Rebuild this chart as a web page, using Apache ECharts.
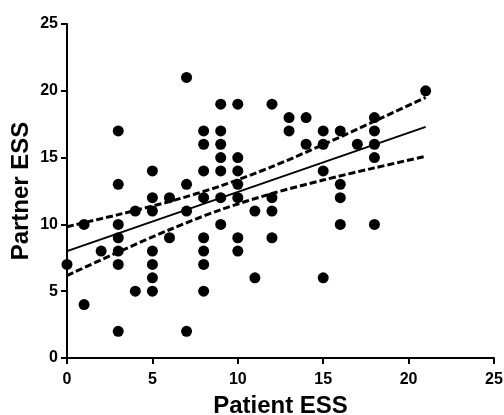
<!DOCTYPE html>
<html>
<head>
<meta charset="utf-8">
<script src="https://cdn.jsdelivr.net/npm/echarts@6/dist/echarts.min.js"></script>
<style>
html,body{margin:0;padding:0;background:#fff;}
#chart{width:504px;height:415px;}
</style>
</head>
<body>
<div id="chart"></div>
<script>
// Scatter data
var patientESS = [0,1,1,2,3,3,3,3,3,3,3,4,4,5,5,5,5,5,5,5,6,6,7,7,7,7,
  8,8,8,8,8,8,8,8,9,9,9,9,9,9,9,10,10,10,10,10,10,10,11,11,12,12,12,12,
  13,13,14,14,15,15,15,15,16,16,16,16,17,18,18,18,18,18,21];
var partnerESS = [7,10,4,8,17,13,10,9,8,7,2,11,5,14,12,11,8,7,6,5,12,9,21,13,11,2,
  17,16,14,12,9,8,7,5,19,17,16,15,14,12,10,19,15,14,13,12,9,8,11,6,19,12,11,9,
  18,17,18,16,17,16,14,6,17,13,12,10,16,18,17,16,15,10,20];

// Regression line and 95% confidence band
var fitX = [0, 21];
var fitY = [8.0, 17.3];
var ciX = [0, 3, 6, 9, 12, 15, 18, 21];
var ciUpper = [9.83, 10.73, 11.71, 12.88, 14.32, 15.97, 17.72, 19.50];
var ciLower = [6.17, 7.93, 9.60, 11.10, 12.31, 13.32, 14.23, 15.10];

// Axis ticks
var xTicks = [0, 5, 10, 15, 20, 25];
var yTicks = [0, 5, 10, 15, 20, 25];

function pairs(xs, ys){ return xs.map(function(x,i){ return [x, ys[i]]; }); }

var fontFam = '"Liberation Sans", Arial, Helvetica, sans-serif';
var axisCommon = {
  type: 'value',
  interval: 5,
  splitLine: {show: false},
  axisLine: {show: true, onZero: false, lineStyle: {color: '#000', width: 2}},
  axisTick: {show: true, inside: false, length: 6, lineStyle: {color: '#000', width: 2}},
  nameLocation: 'middle',
  nameMoveOverlap: false,
  nameTextStyle: {color: '#000', fontSize: 24, fontWeight: 'bold', fontFamily: fontFam}
};

var chart = echarts.init(document.getElementById('chart'), null, {renderer: 'canvas'});
chart.setOption({
  animation: false,
  backgroundColor: '#fff',
  grid: {left: 67, right: 10, top: 24, bottom: 57, containLabel: false, outerBoundsMode: 'none'},
  xAxis: Object.assign({}, axisCommon, {
    min: xTicks[0], max: xTicks[xTicks.length-1],
    name: 'Patient ESS', nameGap: 36,
    axisLabel: {color: '#000', fontSize: 16, fontWeight: 'bold', fontFamily: fontFam, margin: 14,
      showMaxLabel: true, showMinLabel: true}
  }),
  yAxis: Object.assign({}, axisCommon, {
    min: yTicks[0], max: yTicks[yTicks.length-1],
    name: 'Partner ESS', nameGap: 34,
    axisLabel: {color: '#000', fontSize: 16, fontWeight: 'bold', fontFamily: fontFam, margin: 9,
      showMaxLabel: true, showMinLabel: true}
  }),
  series: [
    {
      type: 'line', data: pairs(ciX, ciUpper), smooth: 0.3, symbol: 'none',
      lineStyle: {color: '#000', width: 3, type: [7, 3]}, z: 3
    },
    {
      type: 'line', data: pairs(ciX, ciLower), smooth: 0.3, symbol: 'none',
      lineStyle: {color: '#000', width: 3, type: [7, 3]}, z: 3
    },
    {
      type: 'line', data: pairs(fitX, fitY), symbol: 'none',
      lineStyle: {color: '#000', width: 2}, z: 3
    },
    {
      type: 'scatter', data: pairs(patientESS, partnerESS), symbol: 'circle', symbolSize: 11,
      itemStyle: {color: '#000', opacity: 1}, z: 4
    }
  ]
});
</script>
</body>
</html>
